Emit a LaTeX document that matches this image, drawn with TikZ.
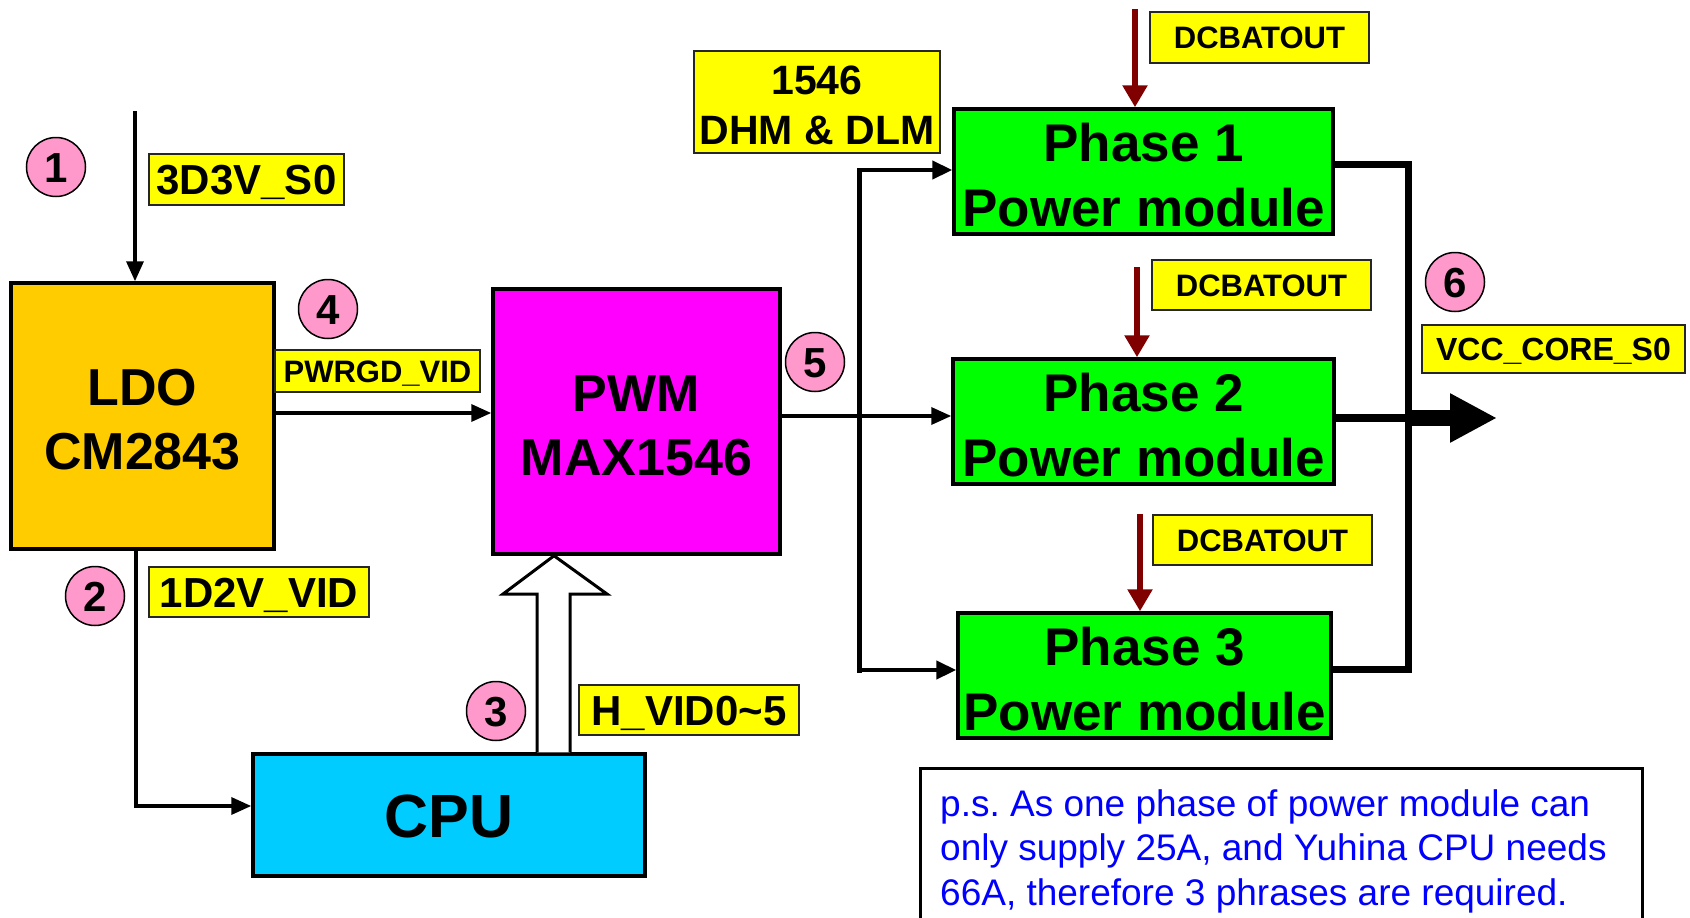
\documentclass[tikz,border=0pt]{standalone}
\usepackage{fontspec}
\setmainfont{Liberation Sans}
\usetikzlibrary{arrows.meta,calc}
\definecolor{ldoc}{HTML}{FFCC00}
\definecolor{pwmc}{HTML}{FF00FF}
\definecolor{cpuc}{HTML}{00CCFF}
\definecolor{phc}{HTML}{00FF00}
\definecolor{tagc}{HTML}{FFFF00}
\definecolor{pinkc}{HTML}{FF99CC}
\definecolor{darkredc}{HTML}{800000}
\definecolor{notec}{HTML}{0000FF}
\frenchspacing
\begin{document}
\begin{tikzpicture}[x=1pt,y=-1pt,
  blk/.style={draw=black, line width=3.5pt, inner sep=0pt},
  blktxt/.style={inner sep=0pt, align=center, font=\bfseries\fontsize{52}{64}\selectfont},
  phase/.style={blk, fill=phc, minimum height=125pt},
  phtxt/.style={blktxt, font=\bfseries\fontsize{53}{65}\selectfont},
  tag/.style={draw=black!85, line width=1.5pt, fill=tagc, inner sep=0pt, align=center,
    text height=30pt, text depth=0pt, font=\bfseries\fontsize{42}{50}\selectfont},
  smalltag/.style={tag, text height=22.3pt, font=\bfseries\fontsize{31}{40}\selectfont},
  num/.style={circle, draw=black, line width=1.5pt, fill=pinkc, minimum size=59pt,
    inner sep=0pt, text height=30pt, text depth=0pt, font=\bfseries\fontsize{42}{42}\selectfont},
  conn/.style={line width=3.5pt, -{Triangle[length=20pt,width=17pt]}},
  bus/.style={line width=5pt},
  redarrow/.style={draw=darkredc, line width=6pt, -{Triangle[length=22pt,width=24pt]}},
  outbus/.style={line width=7pt, line join=miter, line cap=rect}
]
\useasboundingbox (0,0) rectangle (1690,918);

% blocks
\node[blk, fill=ldoc, minimum width=263pt, minimum height=266pt] (ldo) at (142.5,416) {};
\node[blktxt] (ldo-t) at ($(ldo.center)+(0,4)$) {LDO\\CM2843};
\node[blk, fill=pwmc, minimum width=287pt, minimum height=265pt] (pwm) at (636.5,421.5) {};
\node[blktxt] (pwm-t) at ($(pwm.center)+(0,4)$) {PWM\\MAX1546};
\node[blk, fill=cpuc, minimum width=392pt, minimum height=122pt, align=center,
  text height=44pt, text depth=0pt, font=\bfseries\fontsize{61}{61}\selectfont] (cpu) at (449,815) {CPU};
\node[phase, minimum width=379pt] (ph1) at (1143.5,171.5) {};
\node[phtxt] (ph1-t) at ($(ph1.center)+(0,4)$) {Phase 1\\Power module};
\node[phase, minimum width=381pt] (ph2) at (1143.5,421.5) {};
\node[phtxt] (ph2-t) at ($(ph2.center)+(0,4)$) {Phase 2\\Power module};
\node[phase, minimum width=373pt] (ph3) at (1144.5,675.5) {};
\node[phtxt] (ph3-t) at ($(ph3.center)+(0,4)$) {Phase 3\\Power module};

% labels
\node[tag, minimum width=195pt, minimum height=51pt] (l3d3v) at (246.5,179.5) {3D3V\_S0};
\node[smalltag, minimum width=205pt, minimum height=42pt] (lpwrgd) at (377.5,371) {PWRGD\_VID};
\node[tag, minimum width=220pt, minimum height=50pt] (l1d2v) at (259,592) {1D2V\_VID};
\node[tag, minimum width=220pt, minimum height=50pt] (lhvid) at (689,710) {H\_VID0\char`\~5};
\node[draw=black!85, line width=1.5pt, fill=tagc, inner sep=0pt, minimum width=246pt, minimum height=102pt] (l1546) at (817,102) {};
\node[blktxt, font=\bfseries\fontsize{41}{50}\selectfont] (l1546-t) at ($(l1546.center)+(0,3)$) {1546\\DHM \& DLM};
\node[smalltag, minimum width=219pt, minimum height=51pt] (dcb1) at (1259.5,37.5) {DCBATOUT};
\node[smalltag, minimum width=219pt, minimum height=50pt] (dcb2) at (1261.5,285) {DCBATOUT};
\node[smalltag, minimum width=219pt, minimum height=50pt] (dcb3) at (1262.5,540) {DCBATOUT};
\node[smalltag, minimum width=263pt, minimum height=48pt, text height=23pt, font=\bfseries\fontsize{32}{40}\selectfont] (lvcc) at (1553.5,349) {VCC\_CORE\_S0};

% numbers
\node[num] (c1) at (56,167) {1};
\node[num] (c2) at (95,596) {2};
\node[num] (c3) at (496,711) {3};
\node[num] (c4) at (328,309) {4};
\node[num] (c5) at (815,362) {5};
\node[num] (c6) at (1455,282) {6};

% coordinates
\coordinate (in1) at (135,111);
\coordinate (yp) at (0,413);
\coordinate (ldoout) at (136,0);
\coordinate (ycpu) at (0,806);
\coordinate (yo) at (0,416);
\coordinate (busT) at (859,170);
\coordinate (busB) at (859,670);
\coordinate (rbT) at (1408,164);
\coordinate (rbB) at (1408,669);
\coordinate (rbM) at (1408,418);
\coordinate (outS) at (1411,418);
\coordinate (outTip) at (1497,418);
\coordinate (r1) at (1135,9);
\coordinate (r2) at (1137,267);
\coordinate (r3) at (1140,514);

% connectors
\draw[conn] (in1) -- (in1 |- ldo.north);
\draw[conn] (ldo.east |- yp) -- (pwm.west |- yp);
\draw[line width=3.5pt, line join=miter] (ldo.south -| ldoout) -- (ldoout |- ycpu) -- ($(cpu.west |- ycpu)+(-18,0)$);
\draw[conn] (ldoout |- ycpu) -- (cpu.west |- ycpu);

% hollow bus arrow CPU -> PWM
\draw[line width=3pt, fill=white, line join=miter]
  (537,0 |- cpu.north) -- (537,594) -- (503,594) -- (554,0 |- pwm.south) -- (607,594) -- (570,594) -- (570,0 |- cpu.north);

% PWM -> phases
\draw[conn] (pwm.east |- yo) -- (ph2.west |- yo);
\draw[bus, line cap=rect] (busT) -- (busB);
\draw[line width=4.5pt, -{Triangle[length=20pt,width=18pt]}] (busT) -- (ph1.west |- busT);
\draw[line width=4.5pt, -{Triangle[length=20pt,width=18pt]}] (busB) -- (ph3.west |- busB);

% DCBATOUT arrows
\draw[redarrow] (r1) -- (r1 |- ph1.north);
\draw[redarrow] (r2) -- (r2 |- ph2.north);
\draw[redarrow] (r3) -- (r3 |- ph3.north);

% output bus
\draw[outbus] (ph1.east |- rbT) -- (rbT) -- (rbB) -- (ph3.east |- rbB);
\draw[line width=8pt] (ph2.east |- rbM) -- (rbM);
\draw[line width=16pt, -{Triangle[length=47pt,width=46pt]}] (outS) -- (outTip);

% note
\node[draw=black, line width=3pt, anchor=north west, minimum width=722pt, minimum height=180pt, inner sep=0pt] (note) at (919,767) {};
\node[anchor=west, align=left, text=notec, inner sep=0pt, font=\fontsize{37}{44.5}\selectfont] (notetxt) at (940,851)
  {p.s. As one phase of power module can\\only supply 25A, and Yuhina CPU needs\\66A, therefore 3 phrases are required.};
\end{tikzpicture}
\end{document}
